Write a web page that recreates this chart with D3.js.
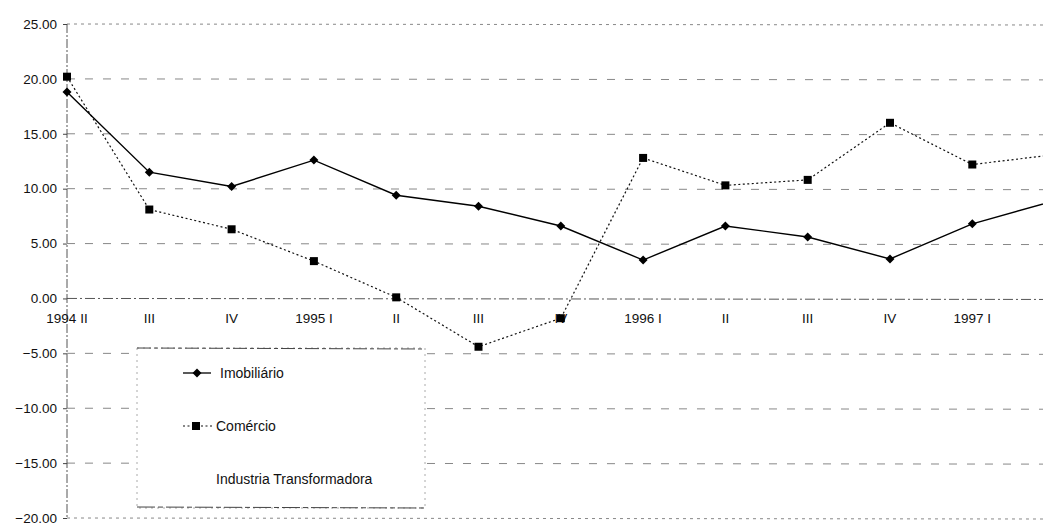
<!DOCTYPE html>
<html>
<head>
<meta charset="utf-8">
<script src="https://cdn.jsdelivr.net/npm/d3@7"></script>
<style>
  body { margin: 0; background: #fff; }
  svg { display: block; font-family: "Liberation Sans", Arial, sans-serif; }
</style>
</head>
<body>
<div id="chart"></div>
<script>
// Quarter labels (last one falls just past the right edge and is not shown)
var quarters = ["1994 II", "III", "IV", "1995 I", "II", "III", "IV",
                "1996 I", "II", "III", "IV", "1997 I", "II"];
var imobiliario = [18.8, 11.5, 10.2, 12.6, 9.4, 8.4, 6.6, 3.5, 6.6, 5.6, 3.6, 6.8, 8.9];
var comercio = [20.2, 8.1, 6.3, 3.4, 0.1, -4.4, -1.8, 12.8, 10.3, 10.8, 16.0, 12.2, 13.1];
var yTicks = [25, 20, 15, 10, 5, 0, -5, -10, -15, -20];
var legendLabels = ["Imobiliário", "Comércio", "Industria Transformadora"];

var width = 1043,
    height = 525,
    x0 = 67,
    step = 82.3,
    x = d3.scalePoint().domain(d3.range(quarters.length))
          .range([x0, x0 + step * (quarters.length - 1)]),
    y = d3.scaleLinear().domain([-20, 25]).range([518, 24]);

var svg = d3.select("#chart").append("svg")
  .attr("width", width)
  .attr("height", height);

// Gridlines
svg.append("g").selectAll("line")
  .data(yTicks)
  .enter().append("line")
    .attr("x1", x0)
    .attr("x2", width)
    .attr("y1", function(d) { return y(d); })
    .attr("y2", function(d) { return y(d) + 1; })
    .attr("stroke", function(d) { return d === 0 ? "#555" : "#888"; })
    .attr("stroke-width", 1)
    .attr("stroke-dasharray", function(d) {
      if (d === 25 || d === -20) return "3,4";
      if (d === 0) return "10,3,2,3";
      return "8,10";
    });

// Y axis line
svg.append("line")
  .attr("x1", x0).attr("x2", x0)
  .attr("y1", y(25)).attr("y2", y(-20))
  .attr("stroke", "#555")
  .attr("stroke-dasharray", "9,2,2,2");

// Y tick marks and labels
var yAxis = svg.append("g").attr("transform", "translate(" + x0 + ",0)")
  .call(d3.axisLeft(y).tickValues(yTicks).tickSize(4).tickPadding(6)
    .tickFormat(d3.format(".2f")));
yAxis.select(".domain").remove();
yAxis.selectAll(".tick line").attr("stroke", "#444");
yAxis.selectAll("text")
  .style("font-size", "13.5px")
  .attr("fill", "#111")
  .attr("font-family", "Liberation Sans, Arial, sans-serif");

// X labels under the zero line (only those inside the picture)
svg.append("g").selectAll("text")
  .data(quarters.filter(function(d, i) { return x(i) < width - 20; }))
  .enter().append("text")
    .attr("x", function(d, i) { return x(i); })
    .attr("y", 323)
    .attr("text-anchor", "middle")
    .style("font-size", "13.5px")
    .attr("fill", "#111")
    .text(function(d) { return d; });

var line = d3.line()
  .x(function(d, i) { return x(i); })
  .y(function(d) { return y(d); });

// Comércio (dotted, squares)
svg.append("path")
  .datum(comercio)
  .attr("fill", "none")
  .attr("stroke", "#111")
  .attr("stroke-width", 1.2)
  .attr("stroke-dasharray", "2,2.5")
  .attr("d", line);

svg.append("g").selectAll("rect")
  .data(comercio)
  .enter().append("rect")
    .attr("x", function(d, i) { return x(i) - 4; })
    .attr("y", function(d) { return y(d) - 4; })
    .attr("width", 8)
    .attr("height", 8)
    .attr("fill", "#000");

// Imobiliário (solid, diamonds)
svg.append("path")
  .datum(imobiliario)
  .attr("fill", "none")
  .attr("stroke", "#000")
  .attr("stroke-width", 1.4)
  .attr("d", line);

var diamond = "M0,-4.5L4.5,0L0,4.5L-4.5,0Z";

svg.append("g").selectAll("path")
  .data(imobiliario)
  .enter().append("path")
    .attr("transform", function(d, i) {
      return "translate(" + x(i) + "," + y(d) + ")";
    })
    .attr("d", diamond)
    .attr("fill", "#000");

// Legend
var legend = svg.append("g");
legend.append("rect")
  .attr("x", 137).attr("y", 348)
  .attr("width", 288).attr("height", 160)
  .attr("fill", "#fff")
  .attr("stroke", "#aaa")
  .attr("stroke-dasharray", "2,4");
legend.append("line")
  .attr("x1", 137).attr("x2", 425).attr("y1", 348).attr("y2", 349)
  .attr("stroke", "#444").attr("stroke-dasharray", "14,3,4,3");
legend.append("line")
  .attr("x1", 137).attr("x2", 425).attr("y1", 507).attr("y2", 508)
  .attr("stroke", "#444").attr("stroke-dasharray", "18,3,5,3");

legend.append("line")
  .attr("x1", 183).attr("x2", 211).attr("y1", 373).attr("y2", 373)
  .attr("stroke", "#000").attr("stroke-width", 1.3);
legend.append("path")
  .attr("transform", "translate(197,373)")
  .attr("d", diamond)
  .attr("fill", "#000");

legend.append("line")
  .attr("x1", 183).attr("x2", 212).attr("y1", 426).attr("y2", 426)
  .attr("stroke", "#111").attr("stroke-width", 1.2).attr("stroke-dasharray", "2,2.5");
legend.append("rect")
  .attr("x", 192).attr("y", 422).attr("width", 8).attr("height", 8)
  .attr("fill", "#000");

legend.selectAll("text.lbl")
  .data(legendLabels)
  .enter().append("text")
    .attr("class", "lbl")
    .attr("x", function(d, i) { return i === 0 ? 220 : 216; })
    .attr("y", function(d, i) { return [378, 431, 484][i]; })
    .style("font-size", "14px")
    .attr("fill", "#111")
    .text(function(d) { return d; });
</script>
</body>
</html>
